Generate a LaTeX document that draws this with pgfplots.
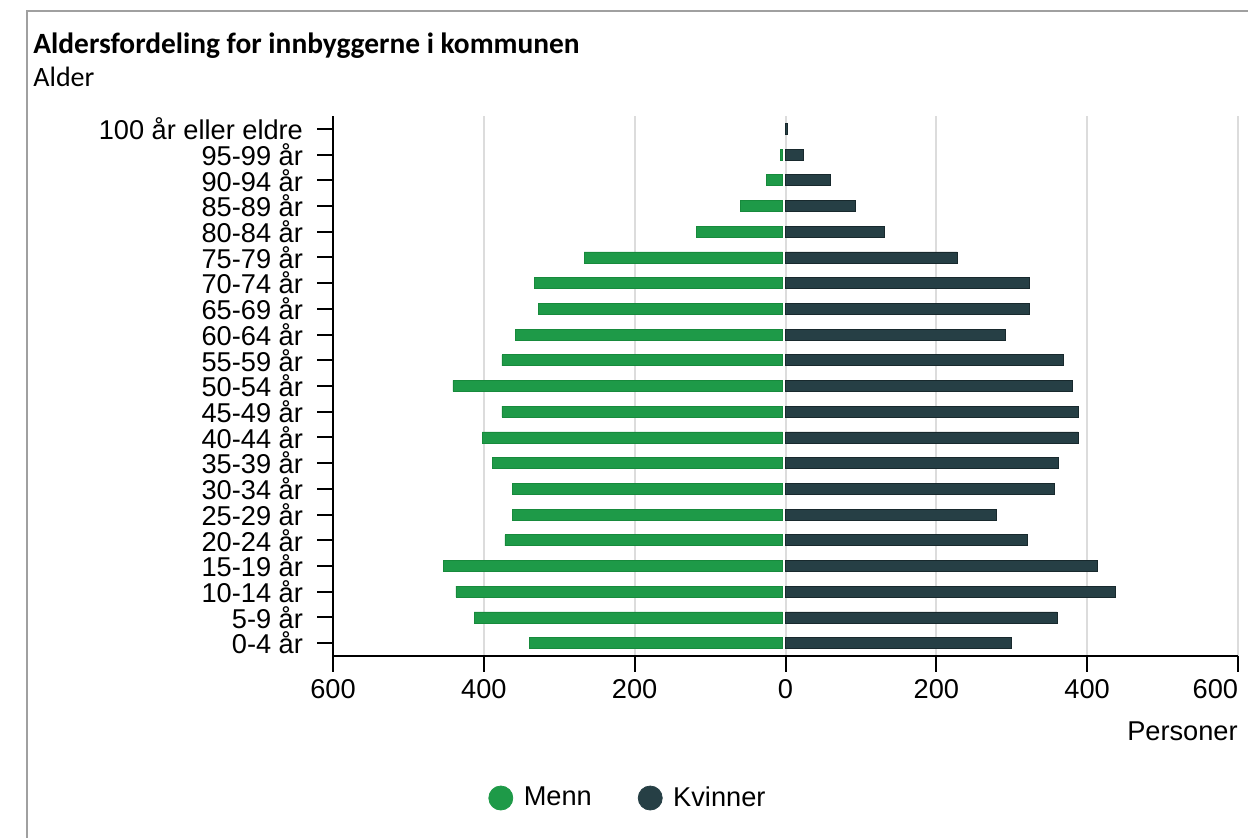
\documentclass[border=0pt]{standalone}
\usepackage{pgfplots}
\pgfplotsset{compat=1.18}
\usepackage{pgfplotstable}
\usepackage{fontspec}
\setmainfont{Liberation Sans}
\newfontfamily\titlefont{Carlito}

\definecolor{menn}{HTML}{1E9A48}
\definecolor{mennedge}{HTML}{178A3C}
\definecolor{kvinner}{HTML}{263F45}
\definecolor{kvinneredge}{HTML}{18292D}
\definecolor{gridgray}{HTML}{DCDCDC}
\definecolor{framegray}{HTML}{A0A0A0}

% age group index (0 = 0-4 år), men as negative values
\pgfplotstableread{
idx menn kvinner
0  -336 299
1  -409 360
2  -433 437
3  -449 413
4  -368 321
5  -358 280
6  -358 357
7  -385 362
8  -398 388
9  -372 388
10 -437 380
11 -372 368
12 -354 291
13 -324 324
14 -329 324
15 -263 228
16 -114 131
17 -56  93
18 -21  60
19 -3   24
20 nan  3
}\pyramid

\begin{document}
\begin{tikzpicture}
\useasboundingbox (0,0) rectangle (624pt,-419pt);
\draw[framegray, line width=0.8pt] (13.5pt,-700pt) -- (13.5pt,-5.5pt) -- (700pt,-5.5pt);
\node[anchor=base west, inner sep=0pt, font=\titlefont\fontsize{14.7}{16}\selectfont\bfseries] at (16.5pt,-26.8pt) {Aldersfordeling for innbyggerne i kommunen};
\node[anchor=base west, inner sep=0pt, font=\titlefont\fontsize{14}{16}\selectfont] at (16.5pt,-43.5pt) {Alder};
\begin{axis}[
    at={(166.5pt,-328pt)}, anchor=south west,
    scale only axis,
    width=452.5pt, height=270pt,
    font=\fontsize{13.6}{15}\selectfont,
    xmin=-600, xmax=600,
    ymin=-0.5, ymax=20.5,
    axis lines=left,
    axis line style={line width=1pt, -},
    xtick={-600,-400,...,600},
    xticklabels={600,400,200,0,200,400,\makebox[0pt][r]{600}},
    ytick={0,...,20},
    yticklabels={0-4 år,5-9 år,10-14 år,15-19 år,20-24 år,25-29 år,30-34 år,35-39 år,40-44 år,45-49 år,50-54 år,55-59 år,60-64 år,65-69 år,70-74 år,75-79 år,80-84 år,85-89 år,90-94 år,95-99 år,100 år eller eldre},
    yticklabel style={xshift=-3.5pt},
    tick align=outside,
    major tick length=8pt,
    tick style={line width=1pt, black},
    xmajorgrids,
    grid style={gridgray, line width=1pt},
    /pgf/number format/assume math mode=true,
    xlabel={Personer},
    xlabel style={at={(axis description cs:1,-0.121)}, anchor=north east, inner sep=0pt},
    legend columns=2,
    legend style={draw=none, at={(axis description cs:0.327,-0.263)}, anchor=center,
        /tikz/every even column/.append style={column sep=21pt}},
    legend cell align=left,
    unbounded coords=discard,
    xbar, bar width=5.5pt, bar shift=0pt,
]
\addplot[fill=menn, draw=mennedge, line width=0.4pt, xshift=-1.5pt,
    legend image code/.code={\fill[menn] (0pt,0pt) circle (6pt); \path[draw=none, fill=none] (6pt,0pt) -- (9.5pt,0pt);}]
    table[x=menn, y=idx] {\pyramid};
\addlegendentry{Menn}
\addplot[fill=kvinner, draw=kvinneredge, line width=0.4pt,
    legend image code/.code={\fill[kvinner] (0pt,0pt) circle (6pt); \path[draw=none, fill=none] (6pt,0pt) -- (9.5pt,0pt);}]
    table[x=kvinner, y=idx] {\pyramid};
\addlegendentry{Kvinner}
\end{axis}
\end{tikzpicture}
\end{document}
